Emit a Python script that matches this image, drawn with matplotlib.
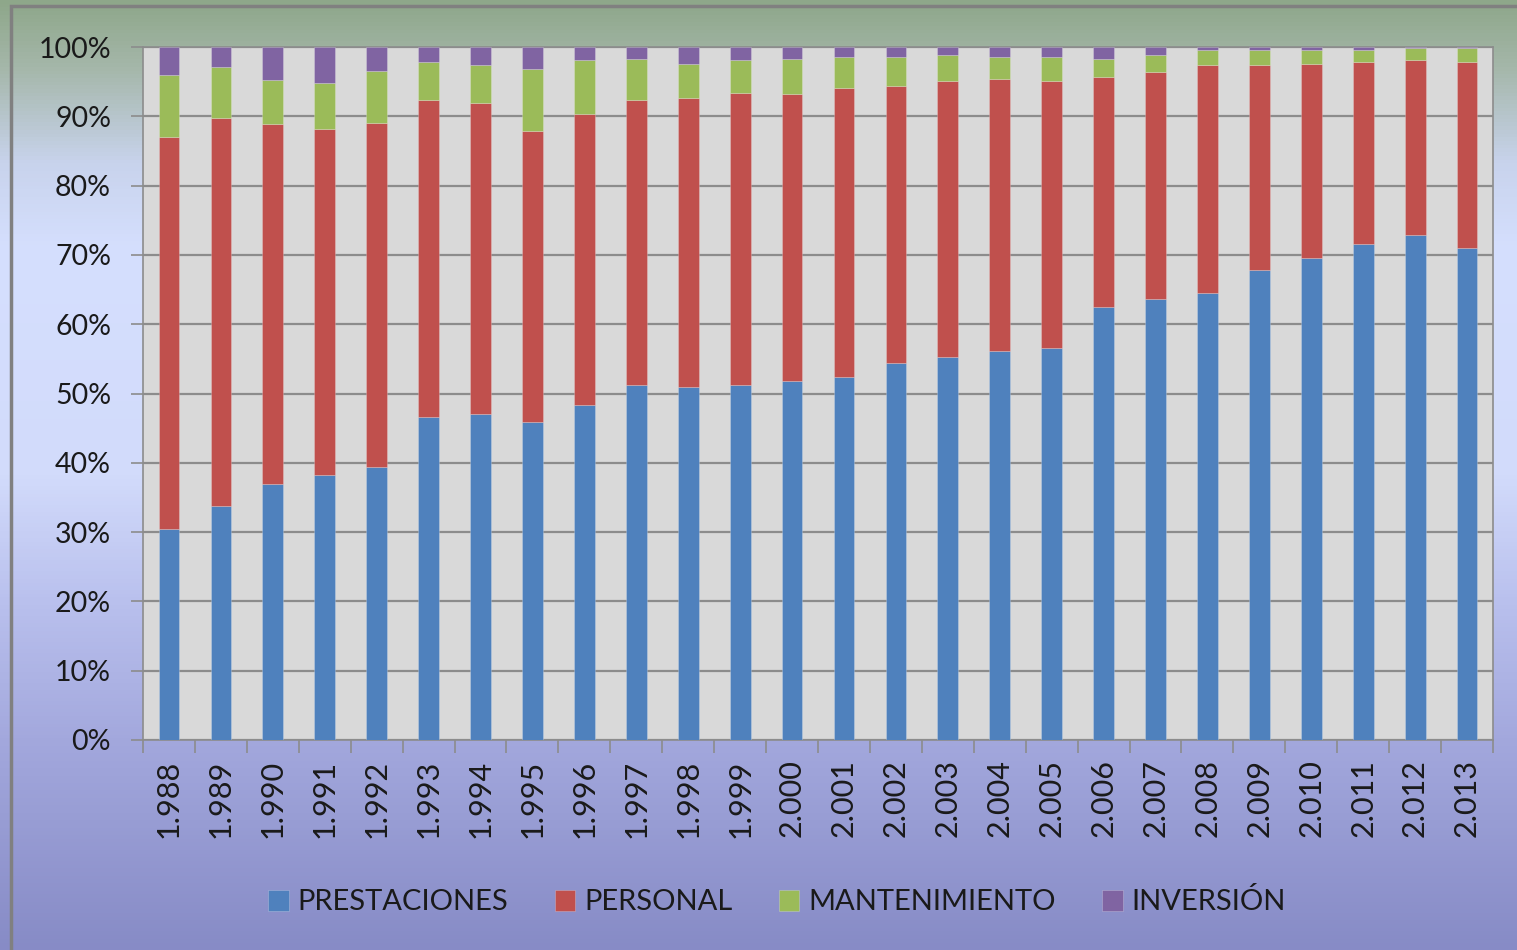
import numpy as np
import matplotlib.pyplot as plt
from matplotlib.colors import LinearSegmentedColormap
from matplotlib.patches import Rectangle

plt.rcParams['font.family'] = ['Lato', 'DejaVu Sans']

# datos (% del total por año)
anios = ['1.988', '1.989', '1.990', '1.991', '1.992', '1.993', '1.994', '1.995', '1.996',
         '1.997', '1.998', '1.999', '2.000', '2.001', '2.002', '2.003', '2.004', '2.005',
         '2.006', '2.007', '2.008', '2.009', '2.010', '2.011', '2.012', '2.013']
prestaciones = [30.4, 33.7, 36.9, 38.2, 39.4, 46.6, 47.1, 45.9, 48.4, 51.2, 50.9, 51.2, 51.8,
                52.4, 54.4, 55.2, 56.1, 56.6, 62.5, 63.6, 64.5, 67.8, 69.5, 71.6, 72.8, 71.0]
personal = [56.6, 56.0, 52.0, 50.0, 49.7, 45.8, 44.8, 42.0, 42.0, 41.2, 41.7, 42.2, 41.4,
            41.7, 40.0, 39.9, 39.3, 38.5, 33.1, 32.8, 32.9, 29.6, 28.1, 26.3, 25.3, 26.9]
mantenimiento = [8.9, 7.4, 6.4, 6.6, 7.5, 5.4, 5.5, 8.9, 7.7, 5.9, 5.0, 4.7, 5.1,
                 4.5, 4.2, 3.7, 3.2, 3.5, 2.7, 2.4, 2.2, 2.2, 2.0, 1.7, 1.8, 2.0]
inversion = [4.1, 2.9, 4.7, 5.2, 3.4, 2.2, 2.6, 3.2, 1.9, 1.7, 2.4, 1.9, 1.7,
             1.4, 1.4, 1.2, 1.4, 1.4, 1.7, 1.2, 0.4, 0.4, 0.4, 0.4, 0.1, 0.1]

series = [('PRESTACIONES', prestaciones, '#4F81BD'),
          ('PERSONAL', personal, '#C0504D'),
          ('MANTENIMIENTO', mantenimiento, '#9BBB59'),
          ('INVERSIÓN', inversion, '#8064A2')]

W, H = 1517, 950
fig = plt.figure(figsize=(W / 100, H / 100), dpi=100)

# fondo degradado
bg = fig.add_axes([0, 0, 1, 1], zorder=-10)
cmap = LinearSegmentedColormap.from_list('fondo', [
    (0.0, '#8ea78a'), (0.07, '#a5b7aa'), (0.17, '#c8d3ec'), (0.26, '#d5dffe'),
    (0.5, '#d2dbfb'), (0.63, '#bac1ee'), (0.78, '#a3a8dd'), (1.0, '#878bc6')])
bg.imshow(np.linspace(0, 1, 256).reshape(-1, 1), aspect='auto', cmap=cmap,
          extent=[0, 1, 0, 1])
bg.set_xlim(0, 1)
bg.set_ylim(0, 1)
bg.axis('off')
bg.add_patch(Rectangle((11 / W, -0.1), 1.2, 1 - 6 / H + 0.1, fill=False,
                       edgecolor='#808080', lw=2.5))

ax = fig.add_axes([143 / W, 1 - 740 / H, (1493 - 143) / W, (740 - 47) / H])
ax.set_facecolor('#D9D9D9')

x = np.arange(len(anios))
bottom = np.zeros(len(anios))
for nombre, vals, color in series:
    vals = np.array(vals)
    ax.bar(x, vals, 0.4, bottom=bottom, color=color, label=nombre,
           edgecolor='#ffffff40', linewidth=0.6, zorder=3)
    bottom += vals

ax.set_xlim(-0.5, len(anios) - 0.5)
ax.set_ylim(0, 100)
ax.set_yticks(np.arange(0, 101, 10))
ax.set_yticklabels([f'{v}%' for v in range(0, 101, 10)], fontsize=20.5, color='#1a1a1a')
ax.yaxis.grid(True, color='#8c8c8c', lw=1.6, zorder=0)
ax.set_axisbelow(True)
ax.tick_params(axis='y', length=9, width=1.2, color='#8c8c8c', pad=14)

ax.set_xticks(x)
ax.set_xticklabels(anios, rotation=90, fontsize=22, color='#1a1a1a')
ax.set_xticks(np.arange(-0.5, len(anios), 1), minor=True)
ax.tick_params(axis='x', which='major', length=0, pad=14)
ax.tick_params(axis='x', which='minor', length=9, width=1.2, color='#8c8c8c')

for s in ax.spines.values():
    s.set_color('#8c8c8c')
    s.set_linewidth(1.2)

fig.legend(loc='center', bbox_to_anchor=(777 / W, 1 - 902 / H), ncol=4, frameon=False,
           fontsize=21, handlelength=0.7, handleheight=0.7, handletextpad=0.3,
           columnspacing=1.6, labelcolor='#1a1a1a')

fig.savefig('out.png', dpi=100)
